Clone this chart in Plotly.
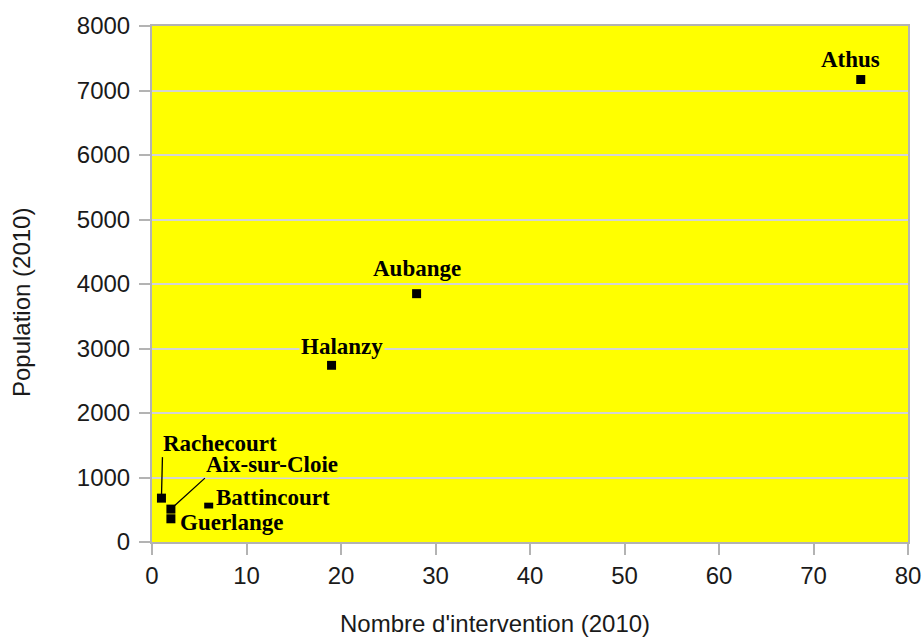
import plotly.graph_objects as go

# Communes: interventions vs. population (2010)
communes = ["Athus", "Aubange", "Halanzy", "Rachecourt", "Aix-sur-Cloie", "Guerlange", "Battincourt"]
interventions = [75, 28, 19, 1, 2, 2, 6]
population = [7170, 3850, 2740, 680, 510, 360, 540]

x_ticks = [0, 10, 20, 30, 40, 50, 60, 70, 80]
y_ticks = [0, 1000, 2000, 3000, 4000, 5000, 6000, 7000, 8000]

x_title = "Nombre d'intervention (2010)"
y_title = "Population (2010)"

YELLOW = "#ffff00"
GRID = "#d4d4d4"
AXIS = "#b3b3b3"
SANS = "Liberation Sans, Arial, sans-serif"
TEXT = "#1a1a1a"
TICKFONT = dict(family=SANS, size=24, color=TEXT)
LABELFONT = dict(family="Liberation Serif, Times New Roman, serif", size=23, color="#000000")

fig = go.Figure()
fig.add_trace(go.Scatter(
    x=interventions, y=population, mode="markers",
    marker=dict(symbol="square", size=9, color="#000000"),
    hoverinfo="text", text=communes, showlegend=False,
))

# label placement per commune
placement = {
    "Athus":         dict(xshift=-10, yshift=20, xanchor="center", yanchor="middle"),
    "Aubange":       dict(xshift=0, yshift=25, xanchor="center", yanchor="middle"),
    "Halanzy":       dict(xshift=10, yshift=19, xanchor="center", yanchor="middle"),
    "Guerlange":     dict(xshift=7, yshift=-4, xanchor="left", yanchor="middle"),
    "Battincourt":   dict(xshift=5, yshift=10, xanchor="left", yanchor="middle"),
}
# labels joined to their point by a leader line (pixel offsets)
arrows = {
    "Rachecourt":    dict(ax=1, ay=-41),
    "Aix-sur-Cloie": dict(ax=34, ay=-31),
}

for name, xv, yv in zip(communes, interventions, population):
    label = "<b>%s</b>" % name
    if name in arrows:
        a = arrows[name]
        fig.add_annotation(
            x=xv, y=yv, text=label, font=LABELFONT,
            showarrow=True, arrowhead=0, arrowwidth=1.3, arrowcolor="#000000",
            ax=a["ax"], ay=a["ay"], xanchor="left", yanchor="bottom",
            bgcolor=YELLOW, borderpad=0, standoff=3,
        )
    else:
        p = placement[name]
        fig.add_annotation(
            x=xv, y=yv, text=label, font=LABELFONT, showarrow=False,
            xshift=p["xshift"], yshift=p["yshift"],
            xanchor=p["xanchor"], yanchor=p["yanchor"],
            bgcolor=YELLOW, borderpad=1,
        )

# axis titles
fig.add_annotation(
    xref="paper", yref="paper", x=0.4537, y=-0.157,
    xanchor="center", yanchor="middle", showarrow=False,
    text=x_title, font=dict(family=SANS, size=24, color=TEXT),
)
fig.add_annotation(
    xref="paper", yref="paper", x=-0.1733, y=0.465,
    xanchor="center", yanchor="middle", showarrow=False, textangle=-90,
    text=y_title, font=dict(family=SANS, size=24, color=TEXT),
)

fig.update_layout(
    width=923, height=639,
    margin=dict(l=152, r=15, t=26, b=97),
    paper_bgcolor="#ffffff", plot_bgcolor=YELLOW,
    font=TICKFONT,
    xaxis=dict(
        range=[0, 80], tickvals=x_ticks, ticktext=[str(v) for v in x_ticks],
        showgrid=False, zeroline=False,
        showline=True, linecolor=AXIS, linewidth=2, mirror=True,
        ticks="outside", ticklen=11, tickwidth=2, tickcolor=AXIS,
        tickfont=TICKFONT, automargin=False,
    ),
    yaxis=dict(
        range=[0, 8000], tickvals=y_ticks, ticktext=[str(v) for v in y_ticks],
        showgrid=True, gridcolor=GRID, gridwidth=2, zeroline=False,
        showline=True, linecolor=AXIS, linewidth=2, mirror=True,
        ticks="outside", ticklen=11, tickwidth=2, tickcolor=AXIS,
        ticklabelstandoff=4,
        tickfont=TICKFONT, automargin=False,
    ),
)

fig.write_html("out.html")
